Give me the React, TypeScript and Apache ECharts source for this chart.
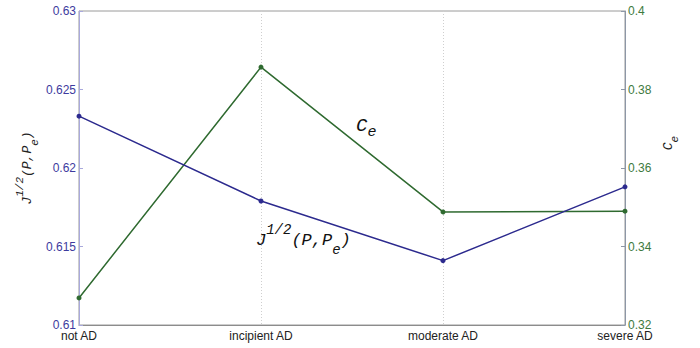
import React, { useEffect, useRef } from "react";
import * as echarts from "echarts";

const categories = ["not AD", "incipient AD", "moderate AD", "severe AD"];
const jValues = [0.6233, 0.6179, 0.6141, 0.6188];
const ceValues = [0.3269, 0.3857, 0.3488, 0.349];
const leftTicks = { min: 0.61, max: 0.63, interval: 0.005 };
const rightTicks = { min: 0.32, max: 0.4, interval: 0.02 };

const BLUE = "#2c2a8e";
const GREEN = "#2f6a30";

export default function App() {
  const ref = useRef<HTMLDivElement>(null);
  useEffect(() => {
    if (!ref.current) return;
    const chart = echarts.init(ref.current, null, { renderer: "svg" });
    const mono = "Liberation Mono";
    const sans = "Liberation Sans";
    chart.setOption({
      animation: false,
      grid: {
        left: 79,
        right: 75,
        top: 11,
        bottom: 23,
        show: true,
        borderColor: "#9a9a9a",
        borderWidth: 1,
      },
      xAxis: {
        type: "category",
        data: categories,
        boundaryGap: false,
        axisLine: { lineStyle: { color: "#8c8c8c" } },
        axisTick: { show: false },
        axisLabel: {
          color: "#222",
          fontSize: 12,
          fontFamily: sans,
          margin: 5,
        },
        splitLine: {
          show: true,
          lineStyle: { color: "#cfcfcf", type: [1, 2] },
        },
      },
      yAxis: [
        {
          type: "value",
          position: "left",
          min: leftTicks.min,
          max: leftTicks.max,
          interval: leftTicks.interval,
          axisLine: { show: true, lineStyle: { color: "#a9a9dc" } },
          axisTick: { show: true, inside: true, length: 4, lineStyle: { color: "#a9a9dc" } },
          axisLabel: {
            color: "#3d3a9e",
            fontSize: 12,
            fontFamily: sans,
            margin: 3,
          },
          splitLine: { show: false },
        },
        {
          type: "value",
          position: "right",
          min: rightTicks.min,
          max: rightTicks.max,
          interval: rightTicks.interval,
          axisLine: { show: true, lineStyle: { color: "#8d97a6" } },
          axisTick: { show: true, inside: true, length: 4, lineStyle: { color: "#8d97a6" } },
          axisLabel: {
            color: "#3e7a3e",
            fontSize: 12,
            fontFamily: sans,
            margin: 3,
          },
          splitLine: { show: false },
        },
      ],
      series: [
        {
          type: "line",
          yAxisIndex: 0,
          data: jValues,
          symbol: "circle",
          symbolSize: 5,
          lineStyle: { color: BLUE, width: 1.5 },
          itemStyle: { color: BLUE },
          z: 3,
        },
        {
          type: "line",
          yAxisIndex: 1,
          data: ceValues,
          symbol: "circle",
          symbolSize: 5,
          lineStyle: { color: GREEN, width: 1.5 },
          itemStyle: { color: GREEN },
          z: 2,
        },
      ],
      graphic: [
        {
          type: "text",
          x: 356,
          y: 126,
          z: 10,
          style: {
            text: "{m|C}{sub|e}",
            align: "left",
            verticalAlign: "middle",
            rich: {
              m: { fontSize: 19, fontStyle: "italic", fontFamily: mono, fill: "#111", lineHeight: 28, verticalAlign: "middle" },
              sub: { fontSize: 15, fontStyle: "italic", fontFamily: mono, fill: "#111", lineHeight: 28, verticalAlign: "bottom" },
            },
          },
        },
        {
          type: "text",
          x: 256,
          y: 240,
          z: 10,
          style: {
            text: "{m|J}{sup|1/2}{m|(P,P}{sub|e}{m|)}",
            align: "left",
            verticalAlign: "middle",
            rich: {
              m: { fontSize: 17, fontStyle: "italic", fontFamily: mono, fill: "#111", lineHeight: 34, verticalAlign: "middle" },
              sup: { fontSize: 14, fontStyle: "italic", fontFamily: mono, fill: "#111", lineHeight: 34, verticalAlign: "top" },
              sub: { fontSize: 14, fontStyle: "italic", fontFamily: mono, fill: "#111", lineHeight: 34, verticalAlign: "bottom" },
            },
          },
        },
        {
          type: "text",
          x: 27,
          y: 168,
          rotation: Math.PI / 2,
          z: 10,
          style: {
            text: "{m|J}{sup|1/2}{m|(P,P}{sub|e}{m|)}",
            align: "center",
            verticalAlign: "middle",
            rich: {
              m: { fontSize: 13, fontStyle: "italic", fontFamily: mono, fill: "#222", lineHeight: 26, verticalAlign: "middle" },
              sup: { fontSize: 11, fontStyle: "italic", fontFamily: mono, fill: "#222", lineHeight: 26, verticalAlign: "top" },
              sub: { fontSize: 11, fontStyle: "italic", fontFamily: mono, fill: "#222", lineHeight: 26, verticalAlign: "bottom" },
            },
          },
        },
        {
          type: "text",
          x: 668,
          y: 143,
          rotation: Math.PI / 2,
          z: 10,
          style: {
            text: "{m|C}{sub|e}",
            align: "center",
            verticalAlign: "middle",
            rich: {
              m: { fontSize: 13, fontStyle: "italic", fontFamily: mono, fill: "#222", lineHeight: 24, verticalAlign: "middle" },
              sub: { fontSize: 11, fontStyle: "italic", fontFamily: mono, fill: "#222", lineHeight: 24, verticalAlign: "bottom" },
            },
          },
        },
      ],
    });
    return () => chart.dispose();
  }, []);
  return <div ref={ref} style={{ width: 700, height: 348, position: "absolute", left: 0, top: 0 }} />;
}
